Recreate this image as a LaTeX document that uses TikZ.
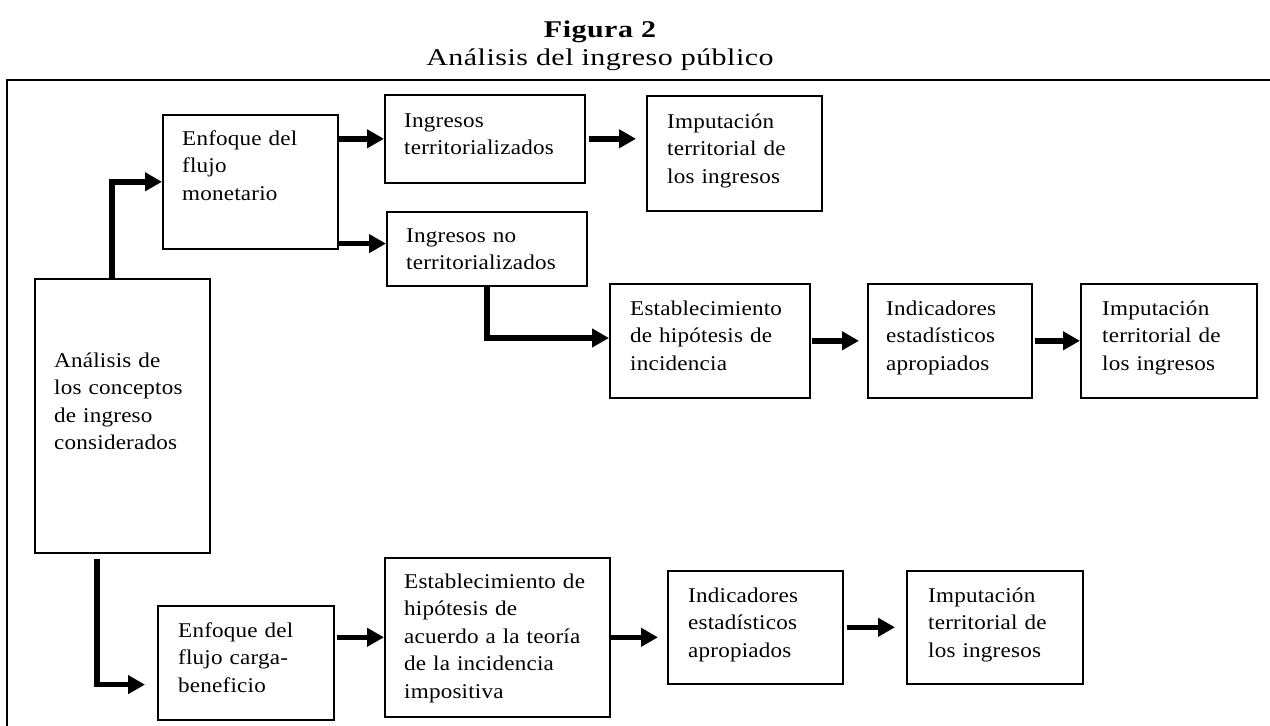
\documentclass[tikz,border=0pt]{standalone}
\usepackage{fontspec}
\setmainfont{Liberation Serif}
\newfontfamily\boxfont{Liberation Serif}[FakeStretch=1.1,LetterSpace=1]
\newfontfamily\titlefont{Liberation Serif}[FakeStretch=1.25,LetterSpace=2]
\usetikzlibrary{arrows.meta}

\tikzset{
  box/.style={draw, line width=1.6pt, inner sep=0pt, anchor=north west},
  txt/.style={inner sep=0pt, anchor=base west, align=left, text width=260pt,
    font=\boxfont\fontsize{21}{27.6}\selectfont},
  flow/.style={line width=5.5pt, -{Triangle[length=17pt,width=18pt]}},
  frame/.style={line width=1.8pt},
  heading/.style={inner sep=0pt, anchor=base, font=\titlefont\fontsize{24}{28}\selectfont}
}

\begin{document}
\begin{tikzpicture}[x=1pt, y=-1pt]
\useasboundingbox (0,0) rectangle (1270,726);

% heading
\node[heading, font=\titlefont\bfseries\fontsize{24}{28}\selectfont] (fig) at (600,37) {Figura 2};
\node[heading] (sub) at (600,65) {Análisis del ingreso público};

% open frame (top and left rules)
\coordinate (frBL) at (7,726);
\coordinate (frTL) at (7,80);
\coordinate (frTR) at (1270,80);
\draw[frame] (frBL) -- (frTL) -- (frTR);

% boxes
\node[box, minimum width=175pt, minimum height=274pt] (A) at (34,278) {};
\node[box, minimum width=175pt, minimum height=134pt] (B) at (162,114) {};
\node[box, minimum width=200pt, minimum height=88pt]  (C) at (384,94) {};
\node[box, minimum width=175pt, minimum height=115pt] (D) at (646,95) {};
\node[box, minimum width=200pt, minimum height=74pt]  (E) at (386,211) {};
\node[box, minimum width=200pt, minimum height=114pt] (F) at (609,283) {};
\node[box, minimum width=164pt, minimum height=114pt] (G) at (867,283) {};
\node[box, minimum width=176pt, minimum height=114pt] (H) at (1080,283) {};
\node[box, minimum width=176pt, minimum height=114pt] (I) at (157,605) {};
\node[box, minimum width=225pt, minimum height=159pt] (J) at (384,557) {};
\node[box, minimum width=175pt, minimum height=113pt] (K) at (667,570) {};
\node[box, minimum width=176pt, minimum height=113pt] (L) at (906,570) {};

% box texts
\node[txt] (At) at (54,367)  {Análisis de\\los conceptos\\de ingreso\\considerados};
\node[txt] (Bt) at (182,145) {Enfoque del\\flujo\\monetario};
\node[txt] (Ct) at (404,127) {Ingresos\\territorializados};
\node[txt] (Dt) at (667,128) {Imputación\\territorial de\\los ingresos};
\node[txt] (Et) at (406,242) {Ingresos no\\territorializados};
\node[txt] (Ft) at (630,315) {Establecimiento\\de hipótesis de\\incidencia};
\node[txt] (Gt) at (886,315) {Indicadores\\estadísticos\\apropiados};
\node[txt] (Ht) at (1102,315) {Imputación\\territorial de\\los ingresos};
\node[txt] (It) at (178,637) {Enfoque del\\flujo carga-\\beneficio};
\node[txt] (Jt) at (404,588) {Establecimiento de\\hipótesis de\\acuerdo a la teoría\\de la incidencia\\impositiva};
\node[txt] (Kt) at (688,602) {Indicadores\\estadísticos\\apropiados};
\node[txt] (Lt) at (928,602) {Imputación\\territorial de\\los ingresos};

% connectors
\coordinate (aUp) at ([xshift=78pt]A.north west);
\draw[flow] (aUp) |- (B.west);
\draw[flow] (B.east |- C.west) -- (C.west);
\coordinate (bLow) at ([yshift=6pt]B.south east);
\draw[flow] (bLow) -- (bLow -| E.west);
\draw[flow, shorten <=3pt, shorten >=10pt] (C.east) -- (C.east -| D.west);
\coordinate (fIn) at ([yshift=-55pt]F.north west);
\draw[flow] (E.south) |- (fIn);
\draw[flow, shorten <=1pt, shorten >=8pt] (F.east) -- (F.east -| G.west);
\draw[flow, shorten <=2pt] (G.east) -- (H.west);
\coordinate (aDn) at ([xshift=63pt,yshift=-5pt]A.south west);
\coordinate (iIn) at ([yshift=36pt]I.south west);
\draw[flow, shorten >=12pt] (aDn) |- (iIn);
\draw[flow, shorten <=2pt] (I.east |- J.west) -- (J.west);
\draw[flow, shorten >=9pt] (J.east) -- (J.east -| K.west);
\draw[flow, shorten <=3pt, shorten >=11pt] (K.east) -- (K.east -| L.west);
\end{tikzpicture}
\end{document}
